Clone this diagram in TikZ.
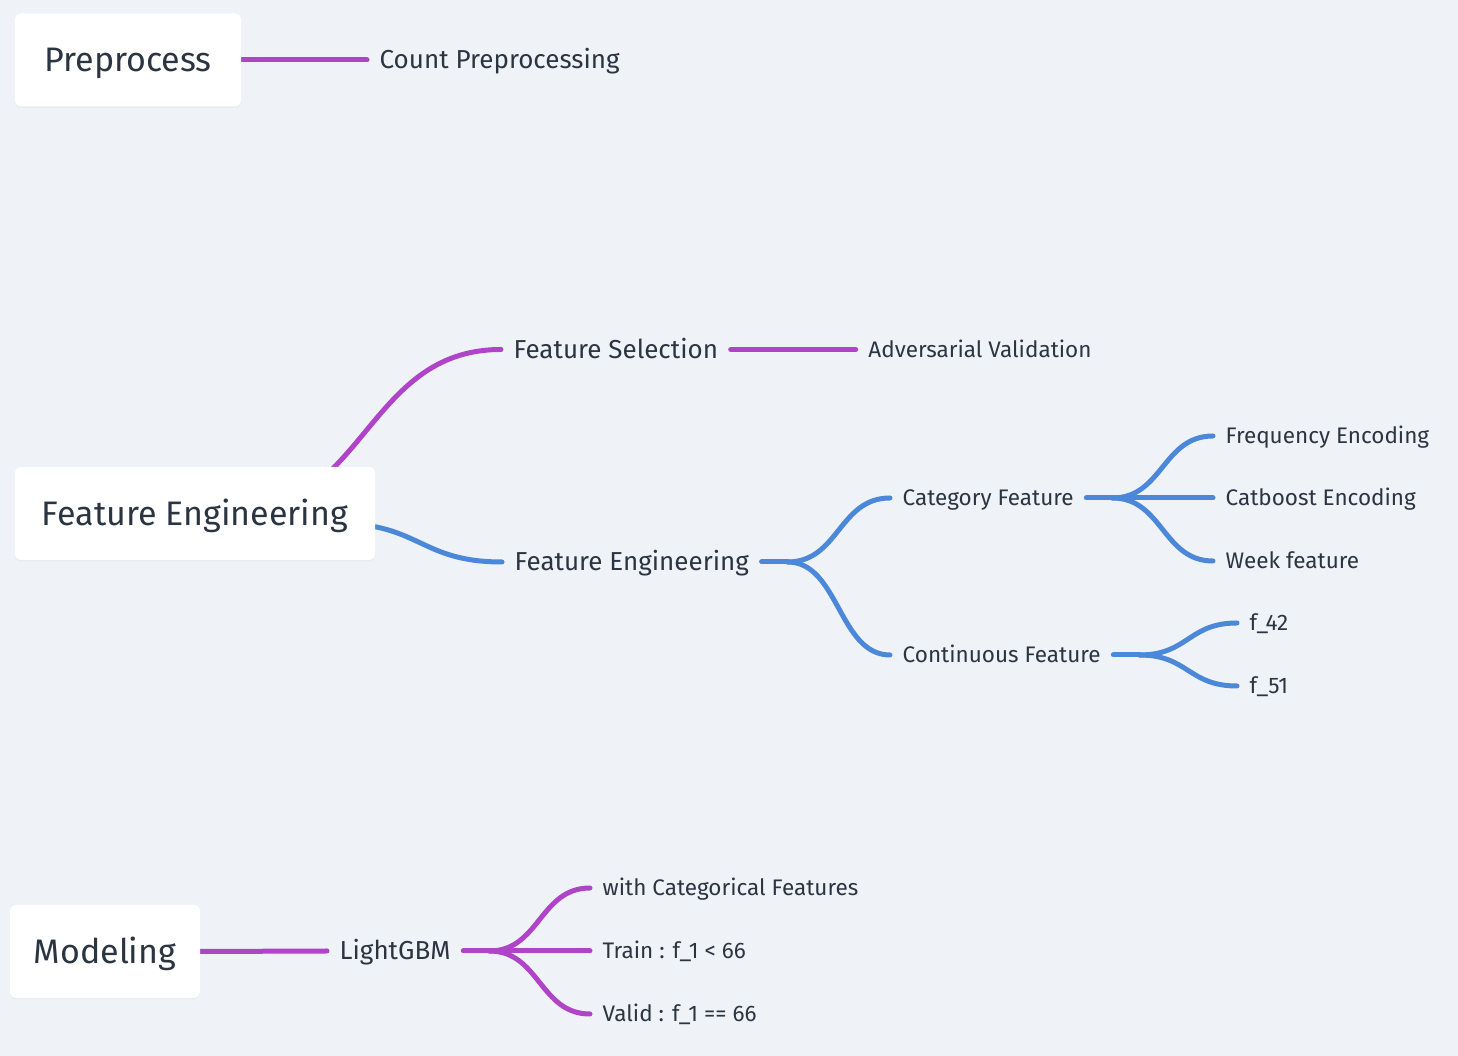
\documentclass[tikz,border=0pt]{standalone}
\usepackage{fontspec}
\setmainfont{Fira Sans}
\usepackage{xcolor}
\usepackage{tikz}
\usetikzlibrary{positioning,calc,shadows}
\definecolor{bgcol}{HTML}{EFF3F7}
\definecolor{purp}{HTML}{AF44C9}
\definecolor{blu}{HTML}{4C88DA}
\definecolor{ink}{HTML}{2B3441}
\pgfdeclarelayer{bg}
\pgfdeclarelayer{lines}
\pgfsetlayers{bg,lines,main}
\tikzset{
    root/.style={fill=white, rounded corners=6pt, minimum height=93pt, inner sep=0pt, text=ink,
        text height=23.4pt, text depth=0pt,
        font=\fontsize{34}{40}\selectfont, drop shadow={opacity=0.06, shadow xshift=0pt, shadow yshift=-1.5pt}},
    lvlone/.style={anchor=west, inner xsep=12.5pt, inner ysep=0pt, text height=17.9pt, text depth=0pt, text=ink,
        font=\fontsize{26}{31}\selectfont},
    lvltwo/.style={anchor=west, inner xsep=12.5pt, inner ysep=0pt, text height=15.5pt, text depth=0pt, text=ink,
        font=\fontsize{22.5}{27}\selectfont},
    pline/.style={draw=purp, line width=5pt, line cap=round},
    bline/.style={draw=blu, line width=5pt, line cap=round},
    sbend/.style={to path={let \p1=(\tikztostart), \p2=(\tikztotarget) in
        .. controls ({(\x1+\x2)/2},\y1) and ({(\x1+\x2)/2},\y2) .. (\tikztotarget)}}
}
\begin{document}
\begin{tikzpicture}[x=1pt, y=1pt]
    \begin{pgfonlayer}{bg}
        \fill[bgcol] (0,0) rectangle (1458,1056);
    \end{pgfonlayer}
    \useasboundingbox (0,0) rectangle (1458,1056);

    % roots
    \node[root, minimum width=226pt] (pre) at (128,996) {Preprocess};
    \node[root, minimum width=360pt] (feroot) at (195,542.5) {Feature Engineering};
    \node[root, minimum width=190pt] (model) at (105,104.5) {Modeling};

    % preprocess
    \node[lvlone] (cntpre) at (367,996) {Count Preprocessing};

    % feature engineering
    \node[lvlone] (fsel) at (501,706.5) {Feature Selection};
    \node[lvltwo, right=125pt of fsel] (advval) {Adversarial Validation};
    \node[lvlone] (feng) at (502,494) {Feature Engineering};
    \node[lvltwo] (catf) at (890,558) {Category Feature};
    \node[lvltwo] (contf) at (890,401) {Continuous Feature};
    \node[lvltwo] (freq) at (1213,620) {Frequency Encoding};
    \node[lvltwo] (catb) at (1213,558) {Catboost Encoding};
    \node[lvltwo] (week) at (1213,495) {Week feature};
    \node[lvltwo] (ffz) at (1237,433) {f\_42};
    \node[lvltwo] (ffo) at (1237,370) {f\_51};

    % modeling
    \node[lvlone] (lgbm) at (327,105) {LightGBM};
    \node[lvltwo] (withcat) at (590,168) {with Categorical Features};
    \node[lvltwo] (train) at (590,105) {Train : f\_1 < 66};
    \node[lvltwo] (valid) at (590,42) {Valid : f\_1 == 66};

    \coordinate (jfe) at ([xshift=26pt]feng.east);
    \coordinate (jcat) at ([xshift=26pt]catf.east);
    \coordinate (jcont) at ([xshift=26pt]contf.east);
    \coordinate (jlgbm) at ([xshift=26pt]lgbm.east);

    \begin{pgfonlayer}{lines}
        \draw[pline] (pre.east) -- (cntpre.west);
        \draw[pline] ($(feroot.center)+(35,0)$) to[sbend] (fsel.west);
        \draw[pline] (fsel.east) -- (advval.west);
        \draw[bline] ($(feroot.center)+(143,-10)$) to[sbend] (feng.west);
        \draw[bline] (feng.east) -- (jfe);
        \foreach \c in {catf,contf}
            \draw[bline] (jfe) to[sbend] (\c.west);
        \draw[bline] (catf.east) -- (jcat);
        \foreach \c in {freq,catb,week}
            \draw[bline] (jcat) to[sbend] (\c.west);
        \draw[bline] (contf.east) -- (jcont);
        \foreach \c in {ffz,ffo}
            \draw[bline] (jcont) to[sbend] (\c.west);
        \draw[pline] (model.east) -- (lgbm.west);
        \draw[pline] (lgbm.east) -- (jlgbm);
        \foreach \c in {withcat,train,valid}
            \draw[pline] (jlgbm) to[sbend] (\c.west);
    \end{pgfonlayer}
\end{tikzpicture}
\end{document}
